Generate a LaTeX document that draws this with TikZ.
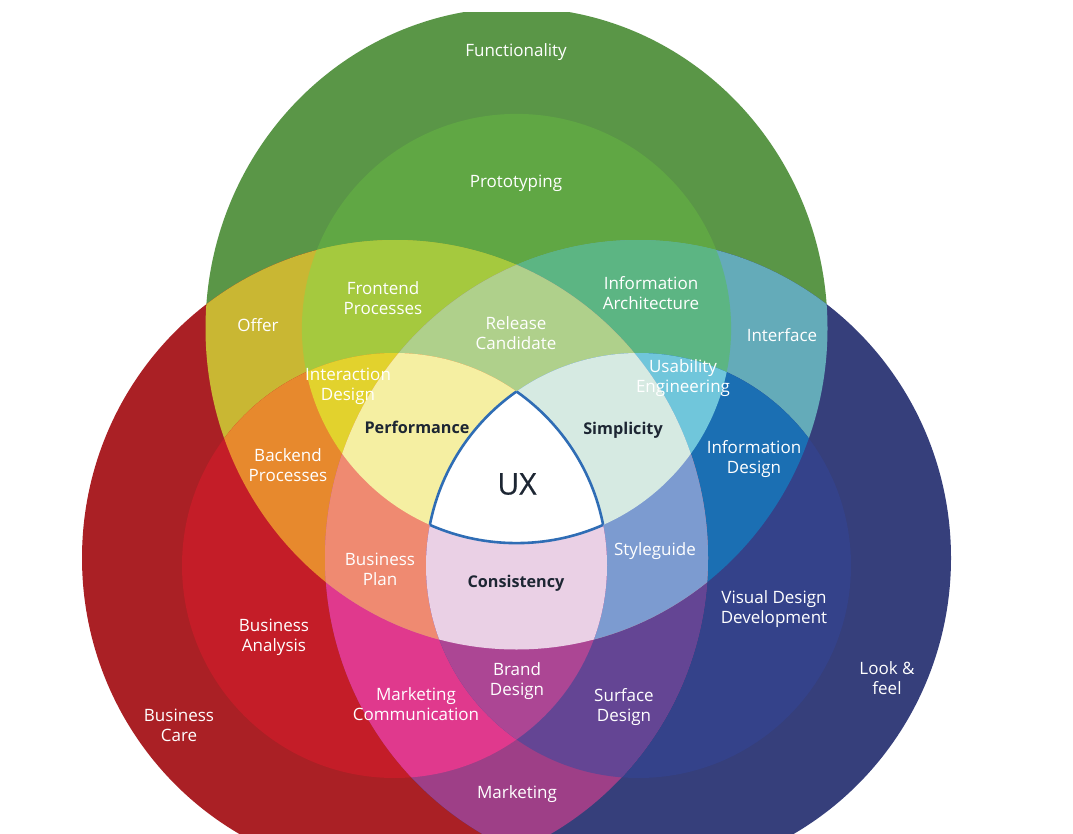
\documentclass[tikz,border=0pt]{standalone}
\usepackage{fontspec}
\setmainfont{Open Sans}

% region colours (named by the label printed in each region)
\definecolor{cFunc}{HTML}{5A9647}
\definecolor{cProto}{HTML}{60A744}
\definecolor{cOffer}{HTML}{C9B733}
\definecolor{cFront}{HTML}{A5C93E}
\definecolor{cRC}{HTML}{AFD08B}
\definecolor{cIA}{HTML}{5CB583}
\definecolor{cIface}{HTML}{64ABB9}
\definecolor{cIxD}{HTML}{E2D22D}
\definecolor{cBack}{HTML}{E7892D}
\definecolor{cPerf}{HTML}{F5EFA2}
\definecolor{cUE}{HTML}{70C6DB}
\definecolor{cSimp}{HTML}{D6EAE2}
\definecolor{cID}{HTML}{1B6FB3}
\definecolor{cCare}{HTML}{AA2025}
\definecolor{cBA}{HTML}{C41D28}
\definecolor{cBP}{HTML}{EF8A71}
\definecolor{cCons}{HTML}{EAD0E5}
\definecolor{cSG}{HTML}{7C9BD0}
\definecolor{cLook}{HTML}{363F7B}
\definecolor{cVDD}{HTML}{34428A}
\definecolor{cMkt}{HTML}{9E3F87}
\definecolor{cMC}{HTML}{E0398D}
\definecolor{cBD}{HTML}{AC4694}
\definecolor{cSurf}{HTML}{644594}
\definecolor{cTri}{HTML}{C98C8F}
\definecolor{inkdark}{HTML}{1D2633}
\definecolor{uxblue}{HTML}{2F6DB5}

% the six circles of the diagram, as clip commands
\newcommand\vGO{\clip (516.5,328.5) ellipse [x radius=311, y radius=321];}
\newcommand\vGM{\clip (516.5,328.5) circle [radius=214.6];}
\newcommand\vRO{\clip (395,558) ellipse [x radius=313, y radius=318];}
\newcommand\vRM{\clip (394.5,565.5) circle [radius=212.5];}
\newcommand\vBO{\clip (638,558) ellipse [x radius=313, y radius=318];}
\newcommand\vBM{\clip (638.5,565.5) circle [radius=212.5];}
% paint the intersection of the given circles
\newcommand\vregion[2]{\begin{scope}#1\fill[#2] (0,0) rectangle (1073,834);\end{scope}}

\begin{document}
\begin{tikzpicture}[x=1pt,y=-1pt,
  lbl/.style={text=white, font=\fontsize{17}{20}\selectfont, align=center, inner sep=0pt},
  key/.style={text=inkdark, font=\fontsize{16.2}{20}\selectfont\bfseries, align=center, inner sep=0pt},
  uxline/.style={draw=uxblue, line width=2.6pt}]
\useasboundingbox (0,0) rectangle (1073,834);
\fill[white] (0,0) rectangle (1073,834);

\begin{scope}
\clip (0,12.5) rectangle (1073,834);
% single circles
\vregion{\vGO}{cFunc}
\vregion{\vRO}{cCare}
\vregion{\vBO}{cLook}
% two circles
\vregion{\vGO\vGM}{cProto}
\vregion{\vGO\vRO}{cOffer}
\vregion{\vGO\vBO}{cIface}
\vregion{\vRO\vRM}{cBA}
\vregion{\vBO\vBM}{cVDD}
\vregion{\vRO\vBO}{cMkt}
% three circles
\vregion{\vGO\vGM\vRO}{cFront}
\vregion{\vGO\vGM\vBO}{cIA}
\vregion{\vGO\vRO\vRM}{cBack}
\vregion{\vGO\vBO\vBM}{cID}
\vregion{\vRO\vRM\vBO}{cMC}
\vregion{\vRO\vBO\vBM}{cSurf}
\vregion{\vGO\vRO\vBO}{cTri}
% four circles
\vregion{\vGO\vGM\vRO\vBO}{cRC}
\vregion{\vGO\vGM\vRO\vRM}{cIxD}
\vregion{\vGO\vGM\vBO\vBM}{cUE}
\vregion{\vGO\vRO\vRM\vBO}{cBP}
\vregion{\vGO\vRO\vBO\vBM}{cSG}
\vregion{\vRO\vRM\vBO\vBM}{cBD}
% five circles
\vregion{\vGO\vGM\vRO\vRM\vBO}{cPerf}
\vregion{\vGO\vGM\vRO\vBO\vBM}{cSimp}
\vregion{\vGO\vRO\vRM\vBO\vBM}{cCons}
% the centre
\vregion{\vGM\vRM\vBM}{white}
% outline of the centre
\begin{scope}\vRM\vBM\draw[uxline] (516.5,328.5) circle [radius=214.6];\end{scope}
\begin{scope}\vGM\vBM\draw[uxline] (394.5,565.5) circle [radius=212.5];\end{scope}
\begin{scope}\vGM\vRM\draw[uxline] (638.5,565.5) circle [radius=212.5];\end{scope}
\end{scope}

% labels
\node[lbl] (functionality) at (516,52) {Functionality};
\node[lbl] (prototyping) at (516,183) {Prototyping};
\node[lbl] (frontend) at (383,298) {Frontend\\Processes};
\node[lbl] (offer) at (258,325) {Offer};
\node[lbl] (release) at (516,333) {Release\\Candidate};
\node[lbl] (infoarch) at (651,293) {Information\\Architecture};
\node[lbl] (interface) at (782,335) {Interface};
\node[lbl] (interaction) at (348,386) {Interaction\\Design};
\node[lbl] (usability) at (683,378) {Usability\\Engineering};
\node[key] (performance) at (417,427) {Performance};
\node[key] (simplicity) at (623,430) {Simplicity};
\node[text=inkdark, font=\fontsize{30}{36}\selectfont\addfontfeature{FakeBold=0.6}, inner sep=0pt] (ux) at (517,484) {UX};
\node[lbl] (backend) at (288,465) {Backend\\Processes};
\node[lbl] (infodesign) at (754,459) {Information\\Design};
\node[lbl] (bplan) at (380,569) {Business\\Plan};
\node[key] (consistency) at (516,583) {Consistency};
\node[lbl] (styleguide) at (655,551) {Styleguide};
\node[lbl] (visual) at (774,609) {Visual Design\\Development};
\node[lbl] (banalysis) at (274,637) {Business\\Analysis};
\node[lbl] (brand) at (517,681) {Brand\\Design};
\node[lbl] (marcom) at (416,704) {Marketing\\Communication};
\node[lbl] (surface) at (624,707) {Surface\\Design};
\node[lbl] (lookfeel) at (887,678) {Look \&\\feel};
\node[lbl] (bcare) at (179,725) {Business\\Care};
\node[lbl] (marketing) at (517,794) {Marketing};
\end{tikzpicture}
\end{document}
